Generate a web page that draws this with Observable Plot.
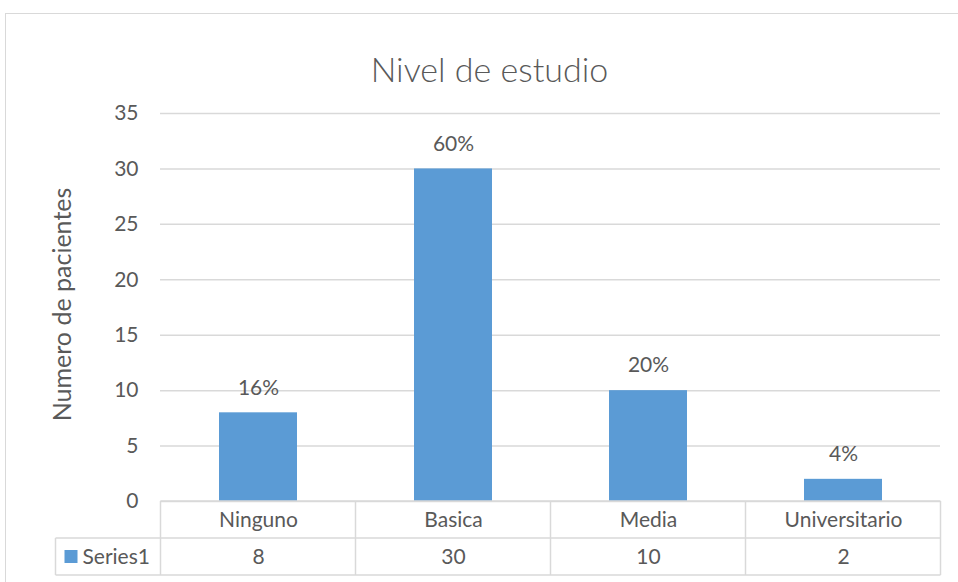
<!DOCTYPE html>
<html>
<head>
<meta charset="utf-8">
<script src="https://cdn.jsdelivr.net/npm/d3@7"></script>
<script src="https://cdn.jsdelivr.net/npm/@observablehq/plot@0.6"></script>
<style>
  html, body { margin: 0; padding: 0; background: #fff; }
  #wrap { position: relative; width: 958px; height: 582px; overflow: hidden; font-family: Lato, "Open Sans", sans-serif; }
  #border { position: absolute; left: 5px; top: 13px; width: 1000px; height: 620px; border: 1.5px solid #d9d9d9; box-sizing: border-box; }
  #chart { position: absolute; left: 0; top: 0; }
</style>
</head>
<body>
<div id="wrap"><div id="border"></div><div id="chart"></div></div>
<script>
const title = "Nivel de estudio";
const yLabel = "Numero de pacientes";
const seriesName = "Series1";
const categories = ["Ninguno", "Basica", "Media", "Universitario"];
const values = [8, 30, 10, 2];
const percentLabels = ["16%", "60%", "20%", "4%"];
const yTicks = [0, 5, 10, 15, 20, 25, 30, 35];

const data = categories.map((c, i) => ({cat: c, value: values[i], pct: percentLabels[i]}));
const textColor = "#595959";
const barColor = "#5B9BD5";
const gridColor = "#d9d9d9";
const fs = 21;

const plot = Plot.plot({
  width: 958,
  height: 582,
  marginTop: 113,
  marginBottom: 81,
  marginLeft: 160,
  marginRight: 18,
  style: {fontFamily: "Lato, 'Open Sans', sans-serif", color: textColor, background: "transparent"},
  x: {domain: categories, paddingInner: 0.6, paddingOuter: 0.3, axis: null},
  y: {domain: [0, 35], axis: null},
  marks: [
    Plot.gridY(yTicks, {stroke: gridColor, strokeOpacity: 1, strokeWidth: 1.5}),
    Plot.axisY(yTicks, {tickSize: 0, tickPadding: 22, fontSize: fs, fill: textColor, label: null}),
    Plot.text([yLabel], {frameAnchor: "left", textAnchor: "middle", rotate: -90, dx: -98, dy: -3, fontSize: 25, fill: textColor}),
    Plot.barY(data, {x: "cat", y: "value", fill: barColor}),
    Plot.text(data, {x: "cat", y: "value", text: "pct", dy: -25, fontSize: fs, fill: textColor}),
    Plot.text(data, {x: "cat", y: 0, text: "cat", dy: 19, fontSize: fs, fill: textColor}),
    Plot.text(data, {x: "cat", y: 0, text: d => String(d.value), dy: 56, fontSize: fs, fill: textColor}),
    Plot.text([title], {frameAnchor: "top", dx: -61, dy: -56, fontSize: 34, fontWeight: 300, fill: textColor})
  ]
});
document.getElementById("chart").appendChild(plot);

// Data table grid drawn from the plot's own scales
const xs = plot.scale("x");
const ys = plot.scale("y");
const step = xs.step;
const y0 = ys.apply(0);
const row1 = y0 + 37;
const row2 = y0 + 74;
const left = xs.apply(categories[0]) - (step - xs.bandwidth) / 2;
const right = left + step * categories.length;
const legendLeft = left - 105;
const svg = d3.select(plot);
const g = svg.append("g").attr("stroke", gridColor).attr("stroke-width", 1.5).attr("fill", "none");
g.append("line").attr("x1", left).attr("x2", right).attr("y1", y0).attr("y2", y0);
g.append("line").attr("x1", legendLeft).attr("x2", right).attr("y1", row1).attr("y2", row1);
g.append("line").attr("x1", legendLeft).attr("x2", right).attr("y1", row2).attr("y2", row2);
g.append("line").attr("x1", legendLeft).attr("x2", legendLeft).attr("y1", row1).attr("y2", row2);
for (let i = 0; i <= categories.length; i++) {
  const x = left + i * step;
  g.append("line").attr("x1", x).attr("x2", x).attr("y1", y0).attr("y2", row2);
}
// legend key in table
svg.append("rect").attr("x", legendLeft + 9).attr("y", (row1 + row2) / 2 - 6.5)
  .attr("width", 13).attr("height", 13).attr("fill", barColor);
svg.append("text").attr("x", legendLeft + 27).attr("y", (row1 + row2) / 2)
  .attr("dy", "0.35em").attr("text-anchor", "start").style("font-size", fs + "px").attr("fill", textColor)
  .attr("font-family", "Lato, 'Open Sans', sans-serif").text(seriesName);
</script>
</body>
</html>
